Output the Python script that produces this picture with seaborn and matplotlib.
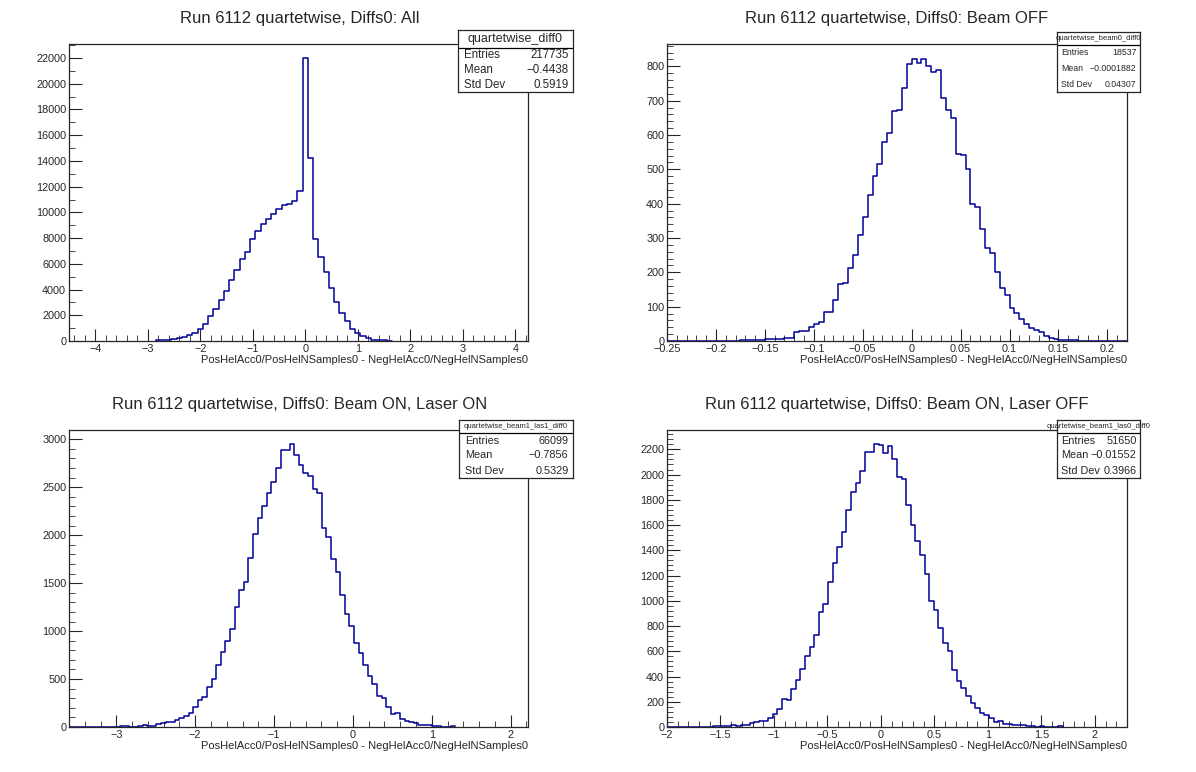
import numpy as np
import pandas as pd
import matplotlib.pyplot as plt
import seaborn as sns
from matplotlib.ticker import AutoMinorLocator, MultipleLocator, FuncFormatter

# bin contents
all_counts = [40, 60, 80, 150, 200, 300, 450, 650, 950, 1350, 1950, 2450, 3200, 3850,
              4750, 5500, 6350, 6950, 7900, 8550, 9100, 9500, 9900, 10250, 10550, 10650,
              10850, 11650, 22000, 14200, 7900, 6550, 5350, 4100, 3050, 2200, 1550, 950,
              650, 400, 200, 100, 60, 40, 20]
off_counts = [0, 0, 1, 0, 1, 0, 1, 0, 1, 0, 0, 1, 0, 1, 1, 2, 2, 3, 3, 4,
              5, 5, 5, 5, 10, 10, 25, 30, 30, 40, 50, 55, 85, 85,
              120, 165, 170, 213, 250, 310, 360, 425, 482, 515, 580, 607, 670, 673, 737,
              808, 822, 810, 820, 800, 782, 790, 707, 673, 650, 545, 542, 500, 400, 390,
              325, 270, 255, 200, 155, 133, 95, 83, 65, 50, 37, 32, 25, 15, 8,
              5, 4, 3, 2, 2, 1, 1, 0, 1, 1, 0, 1, 0, 0, 0, 0]
lon_counts = [0] * 11 + [7, 7, 0, 0, 10, 17, 14, 14, 28, 42, 49, 49, 70, 90, 111, 143, 205,
              278, 309, 420, 497, 643, 782, 900, 1018, 1248, 1425, 1508, 1762, 2009, 2176,
              2308, 2437, 2551, 2697, 2885, 2892, 2948, 2836, 2732, 2649, 2617, 2478, 2440,
              2072, 1985, 1752, 1613, 1376, 1178, 1050, 872, 772, 646, 528, 445, 320, 302,
              205, 132, 143, 87, 66, 49, 38, 24, 17, 17, 10, 10, 3, 3, 10]
loff_counts = [0] * 10 + [5, 5, 5, 5, 13, 5, 13, 13, 29, 37, 45, 45, 71, 100, 143, 222, 211,
               301, 375, 460, 560, 634, 726, 909, 975, 1146, 1297, 1424, 1542, 1717, 1865,
               1933, 2026, 2176, 2176, 2240, 2234, 2168, 2227, 2121, 1978, 1962, 1756, 1598,
               1471, 1360, 1210, 996, 924, 782, 666, 600, 452, 367, 309, 243, 193, 151, 108,
               98, 69, 40, 45, 24, 21, 16, 16, 16, 11, 11, 3, 11, 3, 3, 3, 11]

panels = [
    dict(title="Run 6112 quartetwise, Diffs0: All", counts=all_counts, start=-2.85, width=0.1,
         xlim=(-4.5, 4.24), ylim=23090, xmaj=1, xmin=0.2, ymaj=2000, ymin=1000,
         name="quartetwise_diff0", stats=("217735", "\u22120.4438", "0.5919")),
    dict(title="Run 6112 quartetwise, Diffs0: Beam OFF", counts=off_counts, start=-0.25, width=0.005,
         xlim=(-0.25, 0.22), ylim=865, xmaj=0.05, xmin=0.01, ymaj=100, ymin=20,
         name="quartetwise_beam0_diff0", stats=("18537", "\u22120.0001882", "0.04307")),
    dict(title="Run 6112 quartetwise, Diffs0: Beam ON, Laser ON", counts=lon_counts, start=-3.6,
         width=0.0583, xlim=(-3.6, 2.22), ylim=3097, xmaj=1, xmin=0.2, ymaj=500, ymin=100,
         name="quartetwise_beam1_las1_diff0", stats=("66099", "\u22120.7856", "0.5329")),
    dict(title="Run 6112 quartetwise, Diffs0: Beam ON, Laser OFF", counts=loff_counts, start=-2.0,
         width=0.043, xlim=(-2.0, 2.3), ylim=2353, xmaj=0.5, xmin=0.1, ymaj=200, ymin=40,
         name="quartetwise_beam1_las0_diff0", stats=("51650", "\u22120.01552", "0.3966")),
]

# stats boxes in pixels: left, right, top, bottom, header height, header font, row font
stat_boxes = [(458, 573, 30, 92, 18, 9, 8.3), (1057, 1140, 32, 92, 13, 5.5, 6.3),
              (459, 573, 420, 478, 13, 5.5, 7.8), (1057, 1140, 420, 478, 13, 5.5, 7.8)]

sns.set_style("ticks")
plt.rcParams['font.family'] = ['Liberation Sans', 'DejaVu Sans']
W, H = 1196, 772
fig = plt.figure(figsize=(W / 100, H / 100), dpi=100)

# axes boxes in pixels: left, right, top, bottom
boxes = [(69, 528, 44, 341), (667, 1127, 44, 341), (69, 528, 430, 727), (667, 1127, 430, 727)]
title_x = [300, 897, 300, 897]
title_y = [18, 18, 405, 405]


def root_fmt(v, pos):
    if abs(v) < 1e-9:
        return "0"
    return ("%g" % v).replace("-", "\u2212")


for p, (l, r, t, b), tx, ty, sb in zip(panels, boxes, title_x, title_y, stat_boxes):
    ax = fig.add_axes([l / W, 1 - b / H, (r - l) / W, (b - t) / H])
    counts = np.array(p["counts"], dtype=float)
    edges = p["start"] + p["width"] * np.arange(len(counts) + 1)
    xs = np.concatenate([[edges[0]], edges, [edges[-1]]])
    ys = np.concatenate([[0], counts, [0, 0]])
    df = pd.DataFrame({"x": xs, "y": ys})
    sns.lineplot(data=df, x="x", y="y", drawstyle="steps-post", color="#000099",
                 linewidth=1.1, sort=False, estimator=None, ax=ax)
    ax.set_xlim(*p["xlim"])
    ax.set_ylim(0, p["ylim"])
    ax.set_ylabel("")
    ax.set_xlabel("")
    ax.xaxis.set_major_locator(MultipleLocator(p["xmaj"]))
    ax.xaxis.set_minor_locator(MultipleLocator(p["xmin"]))
    ax.yaxis.set_major_locator(MultipleLocator(p["ymaj"]))
    ax.yaxis.set_minor_locator(MultipleLocator(p["ymin"]))
    ax.xaxis.set_major_formatter(FuncFormatter(root_fmt))
    ax.yaxis.set_major_formatter(FuncFormatter(root_fmt))
    ax.tick_params(which="both", direction="in", labelsize=7.8, top=False, right=False, pad=2)
    ax.tick_params(which="major", length=9)
    ax.tick_params(which="minor", length=4.5)
    for s in ax.spines.values():
        s.set_linewidth(0.9)
    fig.text(r / W, 1 - (b + 19) / H, "PosHelAcc0/PosHelNSamples0 - NegHelAcc0/NegHelNSamples0",
             ha="right", va="center", fontsize=8)
    fig.text(tx / W, 1 - ty / H, p["title"], ha="center", va="center", fontsize=12)

    bl, br, bt, bb, hdr, hfs, fs = sb
    sax = fig.add_axes([bl / W, 1 - bb / H, (br - bl) / W, (bb - bt) / H])
    sax.set_xlim(0, 1)
    sax.set_ylim(bb, bt)
    sax.set_xticks([])
    sax.set_yticks([])
    for s in sax.spines.values():
        s.set_linewidth(0.9)
    sax.axhline(bt + hdr, color="black", lw=0.9)
    sax.text(0.5, bt + hdr / 2, p["name"], ha="center", va="center", fontsize=hfs)
    rowh = (bb - bt - hdr) / 3
    for i, (lab, val) in enumerate(zip(["Entries", "Mean", "Std Dev"], p["stats"])):
        yy = bt + hdr + rowh * (i + 0.5)
        sax.text(0.05, yy, lab, ha="left", va="center", fontsize=fs)
        sax.text(0.96, yy, val, ha="right", va="center", fontsize=fs)

fig.savefig("out.png", dpi=100)
